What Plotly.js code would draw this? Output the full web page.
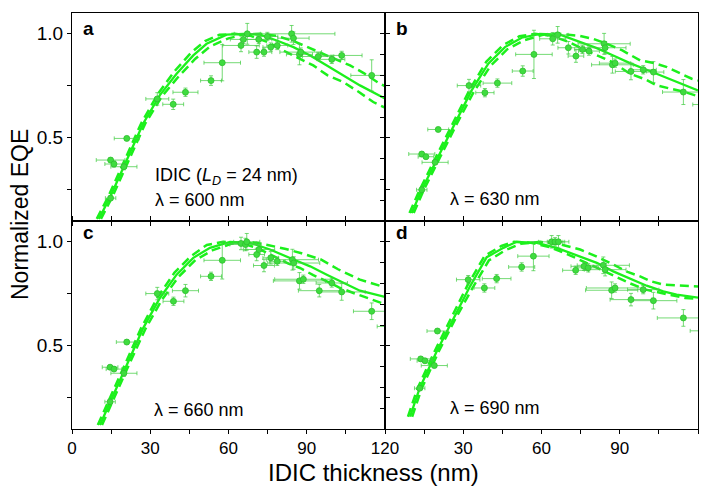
<!DOCTYPE html>
<html>
<head>
<meta charset="utf-8">
<script src="https://cdn.plot.ly/plotly-3.0.1.min.js"></script>
<style>html,body{margin:0;padding:0;background:#fff;}#chart{width:712px;height:487px;}</style>
</head>
<body>
<div id="chart"></div>
<script>
// ---------- Panel a (λ = 600 nm) ----------
const aPtX  = [14.8,16.1,19.9,21.0,14.8,32.7,38.8,43.5,53.3,57.6,64.8,65.7,67.2,70.8,71.6,73.6,74.9,76.2,78.7,84.2,84.9,87.2,87.7,94.4,99.6,103.4,114.9];
const aPtY  = [0.393,0.374,0.361,0.497,0.21,0.687,0.661,0.719,0.775,0.861,0.944,0.973,1.0,0.912,0.973,0.912,0.987,0.936,0.944,1.0,0.979,0.901,0.912,0.891,0.877,0.896,0.8];
const aErrX = [5.5,3.5,5,4.8,2,4.4,4,4.8,4,7,7,5,5,3,5,3,4,3,4,16.6,6,5,8,6,5,7.8,8];
const aErrY = [0.01,0.015,0.015,0.01,0.01,0.03,0.025,0.02,0.023,0.087,0.03,0.02,0.05,0.03,0.02,0.02,0.02,0.02,0.02,0.04,0.03,0.05,0.02,0.02,0.02,0.02,0.075];
const aFitX = [10.3,14.8,21.0,27.3,33.7,40.1,46.5,51.6,59.3,65.7,72.1,78.5,84.9,91.3,97.7,104.0,110.4,120];
const aFitY = [0.11,0.22,0.393,0.569,0.705,0.808,0.896,0.952,0.996,1.0,0.996,0.968,0.936,0.896,0.848,0.8,0.752,0.689];
const aLoX  = [9.5,14.0,20.2,26.5,32.9,39.3,45.7,51,56.5,62.5,68.5,75,81,87.3,92.5,98,104,110,115.5,120];
const aLoY  = [0.11,0.22,0.393,0.569,0.71,0.82,0.91,0.965,0.995,1.0,0.99,0.96,0.92,0.88,0.848,0.8,0.768,0.72,0.672,0.645];
const aHiX  = [11.1,15.6,21.8,28.1,34.5,40.9,47.3,53,60,66,72,78.5,84.9,91.3,97.7,106.6,112,118,120];
const aHiY  = [0.11,0.22,0.393,0.569,0.70,0.795,0.88,0.94,0.978,0.997,1.0,0.99,0.965,0.93,0.895,0.848,0.81,0.76,0.748];

// ---------- Panel b (λ = 630 nm) ----------
const bPtX  = [14.1,15.7,19.2,20.4,14.1,32.2,38.3,43.1,52.8,57.1,64.3,66.2,70.3,73.2,75.7,78.2,84.0,84.4,87.2,88.2,94.3,99.0,102.9,114.4,123];
const bPtY  = [0.422,0.409,0.382,0.54,0.25,0.751,0.717,0.763,0.821,0.901,0.976,0.995,0.933,0.893,0.925,0.917,0.952,0.933,0.851,0.859,0.819,0.827,0.816,0.72,0.66];
const bErrX = [5,3,5,4,2,4.5,3.5,5.5,4,7,5,4,4,3,3,4,10,8,8,6,6,5,4,8,5];
const bErrY = [0.01,0.01,0.01,0.01,0.01,0.03,0.02,0.02,0.025,0.116,0.03,0.04,0.03,0.03,0.02,0.02,0.05,0.03,0.04,0.02,0.04,0.02,0.05,0.06,0.02];
const bFitX = [10.2,14.1,20.4,26.8,33.2,39.6,46.0,52.4,59.4,67.1,73.5,81.2,87.5,93.9,100.3,106.7,113.1,120];
const bFitY = [0.138,0.25,0.409,0.569,0.728,0.856,0.936,0.981,1.0,0.996,0.968,0.931,0.896,0.859,0.827,0.795,0.76,0.728];
const bLoX  = [9.4,13.3,19.6,26.0,32.4,38.8,45.2,51.5,57.5,64,70.5,77,83,87.2,93.9,100,104.1,110,115,120];
const bLoY  = [0.138,0.25,0.409,0.569,0.73,0.865,0.945,0.988,1.0,0.99,0.96,0.92,0.885,0.864,0.808,0.78,0.752,0.735,0.72,0.70];
const bHiX  = [11.0,14.9,21.2,27.6,34.0,40.4,46.8,53.6,60.5,67,74.8,80,85,91,97.8,103,108.1,113,117.6,120];
const bHiY  = [0.138,0.25,0.409,0.569,0.72,0.845,0.925,0.97,0.995,1.0,0.99,0.975,0.952,0.92,0.872,0.86,0.84,0.81,0.784,0.775];

// ---------- Panel c (λ = 660 nm) ----------
const cPtX  = [14.6,16.1,19.9,21.0,14.6,32.7,38.9,43.5,53.3,57.6,64.8,66.5,67.0,70.8,71.7,73.6,76.2,78.7,84.5,85.0,87.2,88.7,94.8,99.6,103.4,114.9,122];
const cPtY  = [0.397,0.388,0.368,0.518,0.231,0.751,0.714,0.765,0.834,0.911,0.992,0.987,1.0,0.939,0.963,0.886,0.923,0.906,0.914,0.898,0.812,0.82,0.765,0.802,0.759,0.666,0.593];
const cErrX = [3,3,5,4,2,4.4,4,5,4,7,6,6,5,3,6,4,3,3,10,10,10,11,8,6,9,7,5];
const cErrY = [0.01,0.01,0.015,0.01,0.01,0.03,0.02,0.03,0.02,0.09,0.03,0.03,0.04,0.03,0.02,0.03,0.03,0.02,0.05,0.03,0.04,0.02,0.03,0.02,0.04,0.04,0.02];
const cFitX = [10.7,14.6,21.0,27.3,33.7,40.1,46.5,52.9,60.6,68.3,75.9,84.9,91.3,97.7,104.0,110.4,120];
const cFitY = [0.119,0.231,0.408,0.585,0.73,0.842,0.923,0.971,1.0,0.995,0.963,0.915,0.882,0.842,0.802,0.765,0.735];
const cLoX  = [9.9,13.8,20.2,26.5,32.9,39.3,45.7,51.7,58,64.5,71,77.5,83,87.4,92.5,97.7,102.5,107.9,112,115.5,120];
const cLoY  = [0.119,0.231,0.408,0.585,0.735,0.852,0.932,0.985,1.0,0.995,0.97,0.93,0.895,0.874,0.84,0.81,0.78,0.754,0.735,0.717,0.70];
const cHiX  = [11.5,15.4,21.8,28.1,34.5,40.9,47.3,54,61,68,75,82,88,95.4,102,110.4,115,120];
const cHiY  = [0.119,0.231,0.408,0.58,0.722,0.832,0.912,0.96,0.99,1.0,0.985,0.965,0.945,0.915,0.868,0.818,0.8,0.781];

// ---------- Panel d (λ = 690 nm) ----------
const dPtX  = [13.7,15.3,18.9,20.1,13.3,31.9,38.1,42.8,52.4,56.9,63.9,65.2,66.5,73.1,76.3,77.9,83.7,84.4,86.9,88.2,94.3,99.0,102.9,114.4,122];
const dPtY  = [0.437,0.428,0.405,0.571,0.296,0.818,0.778,0.823,0.879,0.931,1.0,1.0,1.0,0.863,0.882,0.875,0.887,0.866,0.767,0.778,0.722,0.77,0.717,0.634,0.572];
const dErrX = [4,3,5,4,2,4.5,4,5.5,5,6,5,3,4,5,5,4,10,8,10,11,8,6,9,10,5];
const dErrY = [0.01,0.01,0.01,0.01,0.01,0.02,0.02,0.02,0.02,0.07,0.03,0.02,0.03,0.02,0.02,0.02,0.04,0.03,0.04,0.02,0.03,0.02,0.04,0.04,0.01];
const dFitX = [9.6,13.3,19.8,26.2,32.6,39.0,45.4,50.5,58.2,65.8,74.8,81.2,87.5,93.9,100.3,106.7,111.8,120];
const dFitY = [0.159,0.296,0.473,0.633,0.786,0.926,0.971,1.0,0.995,0.971,0.931,0.899,0.858,0.822,0.789,0.762,0.746,0.732];
const dLoX  = [8.8,12.5,19.0,25.4,31.8,38.2,44.6,49.5,56,63,70,77,83,87.5,94,100,106.7,111,115,120];
const dLoY  = [0.159,0.296,0.473,0.633,0.795,0.932,0.98,1.0,0.995,0.975,0.94,0.9,0.865,0.84,0.80,0.77,0.75,0.74,0.73,0.725];
const dHiX  = [10.4,14.1,20.6,27.0,33.4,39.8,46.2,52,59.5,66.5,74.8,81,87.5,93,97.8,102,106.7,112,117,120];
const dHiY  = [0.159,0.296,0.473,0.63,0.775,0.91,0.96,0.99,1.0,0.99,0.963,0.93,0.891,0.855,0.834,0.81,0.794,0.79,0.786,0.785];

// ---------- Text / ticks ----------
const panelLetters = ['a','b','c','d'];
const lambdaLabels = ['λ = 600 nm','λ = 630 nm','λ = 660 nm','λ = 690 nm'];
const materialLabel = 'IDIC (<i>L</i><sub><i>D</i></sub> = 24 nm)';
const xTitle = 'IDIC thickness (nm)';
const yTitle = 'Normalized EQE';
const xTickValsL = [0,30,60,90,120];
const xTickValsR = [30,60,90,120];
const xMinorVals = [15,45,75,105];
const yTickVals = [0.5,1.0];
const yTickText = ['0.5','1.0'];
const yMinorVals = [0.25,0.75];
const yInnerTicks = [0.2,0.3,0.4,0.5,0.6,0.7,0.8,0.9,1.0];

const FONT = 'Liberation Sans, Arial, Helvetica, sans-serif';
const LINE = '#1cf01c';
const MARK = '#3fdc3f';
const ERR = 'rgba(70,205,70,0.75)';

function panelTraces(ptX, ptY, ex, ey, fx, fy, lx, ly, hx, hy, xa, ya) {
  return [
    {x: lx, y: ly, xaxis: xa, yaxis: ya, mode: 'lines', type: 'scatter', hoverinfo: 'skip',
     line: {color: LINE, width: 2.5, dash: '9px,5px'}},
    {x: hx, y: hy, xaxis: xa, yaxis: ya, mode: 'lines', type: 'scatter', hoverinfo: 'skip',
     line: {color: LINE, width: 2.5, dash: '9px,5px'}},
    {x: fx, y: fy, xaxis: xa, yaxis: ya, mode: 'lines', type: 'scatter', hoverinfo: 'skip',
     line: {color: LINE, width: 2.3}},
    {x: ptX, y: ptY, xaxis: xa, yaxis: ya, mode: 'markers', type: 'scatter',
     marker: {color: MARK, size: 6, line: {color: '#2fbf2f', width: 0.8}},
     error_x: {type: 'data', array: ex, color: ERR, thickness: 1, width: 2},
     error_y: {type: 'data', array: ey, color: ERR, thickness: 1, width: 2}}
  ];
}

const data = [].concat(
  panelTraces(aPtX,aPtY,aErrX,aErrY,aFitX,aFitY,aLoX,aLoY,aHiX,aHiY,'x','y'),
  panelTraces(bPtX,bPtY,bErrX,bErrY,bFitX,bFitY,bLoX,bLoY,bHiX,bHiY,'x2','y2'),
  panelTraces(cPtX,cPtY,cErrX,cErrY,cFitX,cFitY,cLoX,cLoY,cHiX,cHiY,'x3','y3'),
  panelTraces(dPtX,dPtY,dErrX,dErrY,dFitX,dFitY,dLoX,dLoY,dHiX,dHiY,'x4','y4')
);

const axBase = {showline: true, linecolor: '#000', linewidth: 1, showgrid: false, zeroline: false,
  ticklen: 4, tickcolor: '#000', tickwidth: 1, fixedrange: true};
function xAx(domain, anchor, labels, vals, mirror) {
  return Object.assign({}, axBase, {domain: domain, anchor: anchor, range: [0,120],
    tickmode: 'array', tickvals: vals, showticklabels: labels,
    minor: {tickmode: 'array', tickvals: xMinorVals, ticks: 'outside', ticklen: 4, tickcolor: '#000', showgrid: false},
    ticks: 'outside', mirror: mirror, tickfont: {family: FONT, size: 17, color: '#000'}});
}
function yAx(domain, anchor, left) {
  if (left) {
    return Object.assign({}, axBase, {domain: domain, anchor: anchor, range: [0.1,1.1],
      tickmode: 'array', tickvals: yTickVals, ticktext: yTickText, ticks: 'outside', mirror: 'ticks',
      minor: {tickmode: 'array', tickvals: yMinorVals, ticks: 'outside', ticklen: 4, tickcolor: '#000', showgrid: false},
      tickfont: {family: FONT, size: 19, color: '#000'}});
  }
  return Object.assign({}, axBase, {domain: domain, anchor: anchor, range: [0.1,1.1],
    tickmode: 'array', tickvals: yInnerTicks, showticklabels: false, ticks: 'outside', mirror: true});
}

const annotations = [];
const letterPos = [[3.6,1.024,'x','y'],[3.6,1.024,'x2','y2'],[3.6,1.043,'x3','y3'],[3.6,1.043,'x4','y4']];
panelLetters.forEach((t,i) => {
  annotations.push({text: '<b>'+t+'</b>', x: letterPos[i][0], y: letterPos[i][1], xref: letterPos[i][2], yref: letterPos[i][3],
    xanchor: 'left', yanchor: 'middle', showarrow: false, font: {family: FONT, size: 19, color: '#000'}});
});
const lamPos = [[30.9,0.199,'x','y'],[24.3,0.208,'x2','y2'],[30.6,0.193,'x3','y3'],[24.3,0.201,'x4','y4']];
lambdaLabels.forEach((t,i) => {
  annotations.push({text: t, x: lamPos[i][0], y: lamPos[i][1], xref: lamPos[i][2], yref: lamPos[i][3],
    xanchor: 'left', yanchor: 'middle', showarrow: false, font: {family: FONT, size: 18, color: '#000'}});
});
annotations.push({text: materialLabel, x: 30.9, y: 0.315, xref: 'x', yref: 'y', xanchor: 'left', yanchor: 'middle',
  showarrow: false, font: {family: FONT, size: 18, color: '#000'}});
annotations.push({text: xTitle, x: 0.4824, y: -0.104, xref: 'paper', yref: 'paper', xanchor: 'center', yanchor: 'middle',
  showarrow: false, font: {family: FONT, size: 24, color: '#000'}});
annotations.push({text: yTitle, x: -0.0831, y: 0.5168, xref: 'paper', yref: 'paper', xanchor: 'center', yanchor: 'middle',
  textangle: -90, showarrow: false, font: {family: FONT, size: 23, color: '#000'}});

const layout = {
  width: 712, height: 487,
  margin: {l: 72, r: 14, t: 13, b: 58},
  paper_bgcolor: '#fff', plot_bgcolor: '#fff',
  showlegend: false,
  font: {family: FONT, color: '#000'},
  xaxis:  xAx([0,0.5], 'y', false, xTickValsL, true),
  xaxis2: xAx([0.5,1], 'y2', false, xTickValsL, true),
  xaxis3: xAx([0,0.5], 'y3', true, xTickValsL, 'ticks'),
  xaxis4: xAx([0.5,1], 'y4', true, xTickValsR, 'ticks'),
  yaxis:  yAx([0.5,1], 'x', true),
  yaxis2: yAx([0.5,1], 'x2', false),
  yaxis3: yAx([0,0.5], 'x3', true),
  yaxis4: yAx([0,0.5], 'x4', false),
  annotations: annotations
};

Plotly.newPlot('chart', data, layout, {staticPlot: true, displayModeBar: false});
</script>
</body>
</html>
